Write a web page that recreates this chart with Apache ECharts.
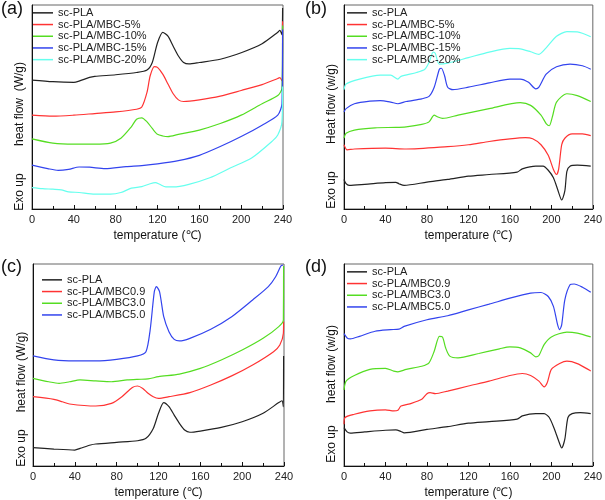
<!DOCTYPE html>
<html><head><meta charset="utf-8">
<script src="https://cdn.jsdelivr.net/npm/echarts@6/dist/echarts.min.js"></script>
<style>html,body{margin:0;padding:0;background:#fff}#c{width:605px;height:500px}</style>
</head><body><div id="c"></div>
<script>
// x ticks
const xTicks = [0, 40, 80, 120, 160, 200, 240];

// Panel (a): [temperature °C, heat flow (a.u.)]
const aPLA = [[0,63.2],[20,62.4],[40,62.1],[45,62.7],[55,64.5],[60,65.0],[80,65.8],[100,66.9],[110,68.1],[115,71.8],[120,81.5],[125,86.6],[130,84.7],[135,79.8],[140,75.0],[145,71.8],[150,71.1],[160,71.8],[180,73.4],[200,76.6],[220,81.0],[235,86.6],[237,87.6],[239,85.5],[239.6,98.5]];
const aMBC5 = [[0,46.0],[20,45.5],[40,46.0],[60,46.8],[80,47.6],[100,48.9],[105,50.0],[110,57.3],[113,65.3],[117,69.8],[120,69.4],[125,66.1],[130,61.3],[135,56.5],[140,53.5],[145,52.7],[160,53.5],[180,55.3],[200,58.1],[220,61.0],[235,64.0],[237,64.4],[239,62.9],[239.6,92]];
const aMBC10 = [[0,34.4],[20,32.3],[40,31.8],[60,31.8],[75,32.3],[85,34.7],[95,40.3],[100,44.0],[105,44.7],[110,42.7],[115,39.5],[120,36.6],[125,35.8],[130,35.5],[140,36.6],[160,38.7],[180,41.9],[200,46.0],[220,51.6],[235,55.6],[239,59.2],[239.6,90]];
const aMBC15 = [[0,21.5],[15,19.8],[25,18.9],[35,19.4],[45,20.6],[55,20.5],[70,19.8],[90,20.8],[105,21.3],[120,22.1],[140,23.7],[160,26.3],[180,30.6],[200,35.5],[220,41.1],[235,46.0],[239,51.6],[239.6,88]];
const aMBC20 = [[0,10.5],[10,10.0],[20,9.7],[28,9.4],[35,8.4],[45,8.1],[60,7.3],[75,7.3],[85,8.1],[95,10.2],[105,11.0],[113,12.4],[118,12.9],[122,12.1],[128,10.8],[135,10.8],[150,12.1],[170,15.3],[190,20.2],[210,25.0],[230,33.4],[235,36.3],[239,42.7],[239.6,60]];

// Panel (b)
const bPLA = [[0,14.5],[2,12.4],[5,11.6],[20,12.1],[40,12.9],[50,13.1],[53,12.4],[58,11.6],[80,13.2],[100,14.5],[120,16.1],[140,16.9],[167,18.1],[172,19.7],[185,21.0],[192,21.0],[197,19.0],[202,15.3],[206,9.7],[210,4.4],[213,8.9],[215,18.5],[218,21.0],[225,21.5],[238,21.0]];
const bMBC5 = [[0,31.5],[3,29.0],[10,29.4],[40,29.8],[60,29.4],[100,30.6],[120,31.5],[140,33.1],[160,34.4],[175,35.0],[182,34.4],[190,31.5],[197,26.3],[202,19.4],[205,16.9],[207,19.4],[210,31.5],[213,34.7],[220,36.8],[230,36.8],[238,36.0]];
const bMBC10 = [[0,34.7],[2,37.1],[10,38.7],[30,39.8],[50,40.0],[60,40.3],[75,41.5],[82,42.7],[87,46.0],[90,45.2],[95,44.4],[110,46.0],[140,49.2],[170,52.1],[180,50.8],[190,46.0],[195,41.9],[198,40.8],[201,45.2],[205,52.4],[215,56.5],[225,55.6],[238,52.7]];
const bMBC15 = [[0,47.6],[2,49.2],[10,51.6],[25,52.9],[35,53.1],[45,52.4],[52,51.6],[60,52.7],[75,54.0],[82,55.2],[87,59.7],[92,68.5],[94,69.0],[97,65.3],[100,59.7],[105,58.5],[120,59.7],[140,61.8],[160,63.7],[170,63.7],[178,62.1],[185,58.9],[188,59.7],[195,66.1],[205,69.7],[218,71.0],[230,70.2],[238,68.5]];
const bMBC20 = [[0,58.5],[2,61.3],[15,63.7],[35,65.6],[45,65.6],[52,63.7],[55,65.0],[70,66.9],[78,68.5],[82,71.8],[86,76.9],[88,76.3],[92,71.0],[100,71.5],[120,74.2],[140,76.9],[160,78.7],[170,78.5],[180,77.1],[188,75.8],[195,79.0],[205,84.7],[215,86.9],[225,86.8],[238,84.4]];

// Panel (c)
const cPLA = [[0,9.1],[20,8.4],[40,7.9],[45,8.7],[55,10.4],[60,10.9],[80,11.7],[100,12.5],[108,13.7],[115,18.6],[120,26.1],[125,31.4],[130,29.4],[135,25.2],[140,21.1],[145,17.8],[150,16.7],[160,17.3],[180,19.1],[200,21.9],[220,26.1],[235,31.4],[238,32.3],[239.4,29.4],[239.6,54.5]];
const cMBC09 = [[0,34.3],[20,33.0],[28,31.8],[35,30.7],[60,29.7],[75,31.0],[85,34.3],[95,38.9],[100,39.6],[105,38.4],[110,36.0],[115,34.3],[120,33.5],[130,34.3],[150,36.3],[170,40.1],[190,44.6],[210,50.0],[230,56.6],[236,59.9],[239.4,65.7],[239.6,71.5]];
const cMBC30 = [[0,43.4],[15,41.7],[25,40.9],[35,41.7],[45,42.6],[60,42.1],[75,41.7],[90,42.6],[100,42.9],[110,43.1],[120,44.2],[140,45.5],[160,48.3],[180,52.5],[200,57.4],[220,63.2],[235,69.0],[239.4,72.3],[239.6,99]];
const cMBC50 = [[0,54.5],[20,52.5],[40,52.0],[60,52.0],[80,52.8],[100,54.5],[108,56.6],[112,67.3],[116,86.3],[118,88.8],[121,86.3],[125,73.9],[130,66.5],[135,62.7],[140,61.9],[150,63.2],[170,67.7],[190,73.9],[210,82.2],[225,88.8],[232,93.7],[237,99.0],[239,99.5]];

// Panel (d)
const dPLA = [[0,19.0],[3,16.9],[6,16.3],[20,16.9],[40,17.7],[50,17.9],[55,17.1],[58,16.4],[80,18.1],[100,19.5],[120,21.2],[140,22.0],[167,23.2],[172,24.8],[185,25.9],[193,25.9],[198,24.0],[203,18.2],[207,12.5],[210,8.9],[213,13.3],[216,24.0],[220,25.9],[228,26.4],[238,25.9]];
const dMBC09 = [[0,20.7],[1,24.0],[10,25.6],[25,27.3],[40,27.8],[48,27.3],[52,27.6],[55,29.7],[65,31.0],[75,33.0],[80,35.8],[83,36.3],[88,35.8],[100,37.1],[120,39.6],[140,42.0],[160,44.8],[172,45.8],[180,44.8],[188,42.0],[193,39.2],[196,41.2],[200,47.8],[208,50.7],[215,51.9],[225,50.7],[238,47.0]];
const dMBC30 = [[0,37.6],[2,42.0],[10,44.8],[25,47.8],[40,48.3],[48,47.0],[52,46.6],[60,47.8],[75,49.4],[82,51.1],[87,56.8],[92,64.2],[95,63.9],[98,58.5],[102,54.4],[110,53.5],[130,55.7],[150,58.0],[160,59.0],[170,58.5],[180,56.0],[185,54.0],[188,54.7],[193,60.1],[200,63.9],[215,66.3],[225,65.8],[238,63.9]];
const dMBC50 = [[0,65.5],[3,63.4],[6,62.9],[15,64.2],[30,66.7],[45,67.5],[53,67.8],[58,69.1],[80,72.4],[100,74.4],[120,77.3],[140,80.1],[160,83.1],[180,85.6],[190,85.9],[197,83.9],[202,79.0],[206,70.0],[208,67.5],[210,70.0],[213,82.3],[218,89.7],[222,90.1],[230,88.5],[238,86.0]];

const namesA = ['sc-PLA','sc-PLA/MBC-5%','sc-PLA/MBC-10%','sc-PLA/MBC-15%','sc-PLA/MBC-20%'];
const namesC = ['sc-PLA','sc-PLA/MBC0.9','sc-PLA/MBC3.0','sc-PLA/MBC5.0'];
const colors5 = ['#222222','#ff3333','#55dd22','#3344ee','#66ffee'];
const colors4 = ['#222222','#ff3333','#55dd22','#3344ee'];

const grids = [
  {left:32, top:5, width:251, height:204},
  {left:344, top:5, width:251, height:204},
  {left:33, top:264, width:251, height:203},
  {left:344, top:264, width:253, height:203}
];
const panelData = [
  [aPLA,aMBC5,aMBC10,aMBC15,aMBC20],
  [bPLA,bMBC5,bMBC10,bMBC15,bMBC20],
  [cPLA,cMBC09,cMBC30,cMBC50],
  [dPLA,dMBC09,dMBC30,dMBC50]
];
const panelNames = [namesA, namesA, namesC, namesC];
const panelColors = [colors5, colors5, colors4, colors4];
const font = 'Liberation Sans, Arial, sans-serif';

const xAxis = grids.map((g,i)=>({
  type:'value', gridIndex:i, min:0, max:240, interval:40,
  name:'temperature (\u2103)', nameLocation:'middle', nameGap: i<2?21:21,
  nameTextStyle:{fontSize:12, color:'#111', fontFamily:font},
  axisLine:{show:true, onZero:false, lineStyle:{color:'#111', width:1}},
  axisTick:{show:true, inside:true, length:4, lineStyle:{color:'#111'}},
  minorTick:{show:true, splitNumber:2, length:3, lineStyle:{color:'#111'}},
  axisLabel:{fontSize:11, color:'#222', margin:5, fontFamily:font, formatter:v=>xTicks.includes(v)?String(v):''},
  splitLine:{show:false}
}));
const yAxis = grids.map((g,i)=>({
  type:'value', gridIndex:i, min:0, max:100,
  axisLine:{show:true, onZero:false, lineStyle:{color:'#111', width:1}},
  axisTick:{show:false}, axisLabel:{show:false}, splitLine:{show:false}
}));

const series = [];
panelData.forEach((arrs,pi)=>{
  arrs.forEach((d,si)=>{
    series.push({
      type:'line', name:panelNames[pi][si], xAxisIndex:pi, yAxisIndex:pi,
      data:d, showSymbol:false, smooth:0.25, animation:false,
      lineStyle:{color:panelColors[pi][si], width:1.2},
      itemStyle:{color:panelColors[pi][si]}
    });
  });
});

const legendPos = [
  {left:33, top:7},
  {left:347, top:7},
  {left:42, top:274},
  {left:347, top:266}
];
const legend = legendPos.map((p,i)=>({
  orient:'vertical', left:p.left, top:p.top, itemGap:0,
  itemWidth:20, itemHeight:1.5, icon:'rect',
  textStyle:{fontSize:11, color:'#222', fontFamily:font, padding:[0,0,0,0], lineHeight:11.7},
  data: panelNames[i].map((n,k)=>({name:n, itemStyle:{color:panelColors[i][k]}})),
  padding:0, selectedMode:false
}));

function vtext(x,y,t){
  return {type:'text', x:x, y:y, rotation:Math.PI/2,
    style:{text:t, fontSize:12, fill:'#111', fontFamily:font, align:'center', verticalAlign:'middle'}};
}
function ptext(x,y,t){
  return {type:'text', x:x, y:y, style:{text:t, fontSize:18, fill:'#111', fontFamily:font, align:'left', verticalAlign:'top'}};
}
const graphic = [
  ptext(1,0,'(a)'), ptext(305,0,'(b)'), ptext(1,258,'(c)'), ptext(305,258,'(d)'),
  vtext(20,104,'heat flow  (W/g)'), vtext(20,192,'Exo up'),
  vtext(332,104,'Heat flow (w/g)'), vtext(332,190,'Exo up'),
  vtext(22,372,'heat flow (W/g)'), vtext(22,448,'Exo up'),
  vtext(332,364,'heat flow (w/g)'), vtext(332,444,'Exo up')
];

const chart = echarts.init(document.getElementById('c'), null, {renderer:'canvas'});
chart.setOption({
  animation:false, backgroundColor:'#fff',
  grid: grids.map(g=>Object.assign({show:true, borderColor:'#666', borderWidth:1, backgroundColor:'transparent'}, g)),
  xAxis, yAxis, series, legend, graphic
});
</script></body></html>
